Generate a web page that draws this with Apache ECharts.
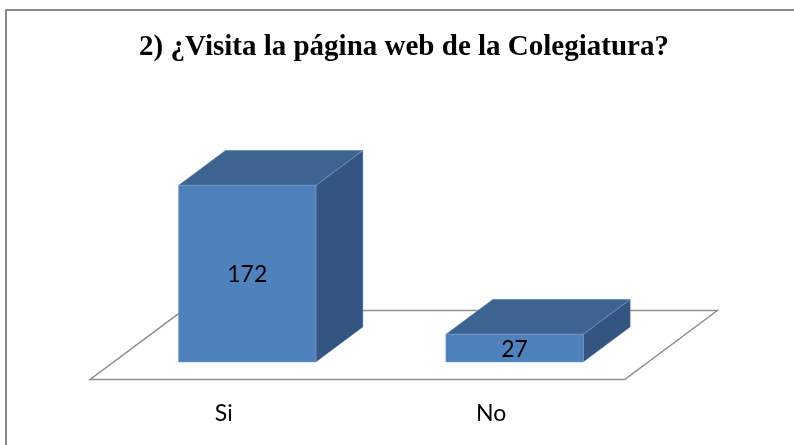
<!DOCTYPE html>
<html>
<head>
<meta charset="utf-8">
<script src="https://cdn.jsdelivr.net/npm/echarts@6/dist/echarts.min.js"></script>
<style>
  html, body { margin: 0; padding: 0; background: #fff; }
  #chart { width: 794px; height: 445px; }
</style>
</head>
<body>
<div id="chart"></div>
<script>
const categories = ['Si', 'No']
const values = [172, 27]
const titleText = '2) ¿Visita la página web de la Colegiatura?'

// oblique depth of the 3D boxes (pixels)
const DX = 47
const DY = -35

const chart = echarts.init(document.getElementById('chart'))

const renderBox = (params, api) => {
  const cat = api.value(0)
  const val = api.value(1)
  const base = api.coord([cat, 0])
  const top = api.coord([cat, val])
  const half = api.size([1, 0])[0] * 0.257
  const x0 = base[0] - half
  const x1 = base[0] + half
  const yb = base[1]
  const yt = top[1]
  const edge = { stroke: 'rgba(120,160,210,0.6)', lineWidth: 0.8 }
  return {
    type: 'group',
    children: [
      {
        type: 'polygon',
        shape: { points: [[x1, yt], [x1 + DX, yt + DY], [x1 + DX, yb + DY], [x1, yb]] },
        style: Object.assign({ fill: '#34557f' }, edge)
      },
      {
        type: 'polygon',
        shape: { points: [[x0, yt], [x0 + DX, yt + DY], [x1 + DX, yt + DY], [x1, yt]] },
        style: Object.assign({ fill: '#3d6491' }, edge)
      },
      {
        type: 'rect',
        shape: { x: x0, y: yt, width: x1 - x0, height: yb - yt },
        style: Object.assign({ fill: '#4f81bd' }, edge)
      },
      {
        type: 'text',
        style: {
          x: base[0],
          y: (yt + yb) / 2 + 1,
          text: String(val),
          align: 'center',
          verticalAlign: 'middle',
          fill: '#000',
          font: '23px Lato, "Open Sans", sans-serif'
        }
      }
    ]
  }
}

const renderFloor = (params) => {
  const cs = params.coordSys
  const yb = cs.y + cs.height
  const f = -0.5
  const b = 1.47
  const pts = [
    [cs.x + f * DX, yb + f * DY],
    [cs.x + cs.width + f * DX, yb + f * DY],
    [cs.x + cs.width + b * DX, yb + b * DY],
    [cs.x + b * DX, yb + b * DY]
  ]
  return {
    type: 'polygon',
    shape: { points: pts },
    style: { fill: '#fff', stroke: '#8f8f8f', lineWidth: 1.5 }
  }
}

const gridTop = 156.6
const gridBottom = 83

const option = {
  animation: false,
  title: {
    text: titleText,
    left: 399,
    top: 28,
    textAlign: 'center',
    textStyle: {
      fontFamily: '"Liberation Serif", "DejaVu Serif", serif',
      fontWeight: 'bold',
      fontSize: 29,
      color: '#000'
    }
  },
  graphic: [
    {
      type: 'rect',
      shape: { x: 6, y: 10, width: 800, height: 450 },
      style: { fill: 'none', stroke: '#8a8a8a', lineWidth: 2 },
      z: 100
    }
  ],
  grid: [
    { left: 113.6, width: 534.6, top: gridTop, bottom: gridBottom },
    { left: 90.1, width: 534.6, top: gridTop, bottom: gridBottom }
  ],
  xAxis: [
    {
      type: 'category',
      gridIndex: 0,
      data: categories,
      axisLine: { show: false },
      axisTick: { show: false },
      axisLabel: { show: false }
    },
    {
      type: 'category',
      gridIndex: 1,
      data: categories,
      axisLine: { show: false },
      axisTick: { show: false },
      axisLabel: {
        margin: 40,
        fontSize: 23,
        fontFamily: 'Lato, "Open Sans", sans-serif',
        color: '#000'
      }
    }
  ],
  yAxis: [
    { type: 'value', gridIndex: 0, min: 0, max: 200, show: false, splitLine: { show: false } },
    { type: 'value', gridIndex: 1, min: 0, max: 200, show: false, splitLine: { show: false } }
  ],
  series: [
    {
      type: 'custom',
      xAxisIndex: 0,
      yAxisIndex: 0,
      renderItem: renderFloor,
      data: [[0, 0]],
      z: 1,
      silent: true
    },
    {
      type: 'custom',
      xAxisIndex: 0,
      yAxisIndex: 0,
      renderItem: renderBox,
      data: values.map((v, i) => [i, v]),
      z: 2
    }
  ]
}

chart.setOption(option)
window.addEventListener('resize', () => chart.resize())
</script>
</body>
</html>
